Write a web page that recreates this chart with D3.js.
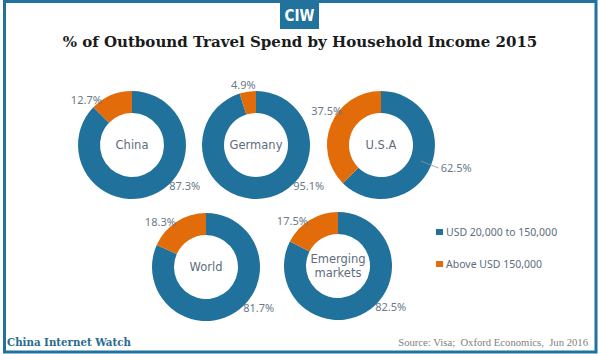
<!DOCTYPE html>
<html lang="en">
	<head>
		<meta charset="utf-8">
		<title>Outbound Travel Spend by Household Income</title>
		<script type="text/javascript" src="https://cdn.jsdelivr.net/npm/d3@7"></script>
		<style type="text/css">
			body { margin: 0; background: #fff; }

			.title {
				font-family: "DejaVu Serif", Georgia, serif;
				font-weight: bold;
				fill: #1b1b1b;
			}

			.centerLabel {
				font-family: "DejaVu Sans", sans-serif;
				font-size: 11.5px;
				fill: #5d6d7c;
			}

			.pctLabel {
				font-family: "Noto Sans", "DejaVu Sans", sans-serif;
				font-size: 11px;
				fill: #6a7988;
			}

			.legendText {
				font-family: "Noto Sans", "DejaVu Sans", sans-serif;
				font-size: 10.5px;
				fill: #5d6d7c;
			}
		</style>
	</head>
	<body>
		<script type="text/javascript">

			var w = 600;
			var h = 354;

			// data (% of spend)
			var regions = ["China", "Germany", "U.S.A", "World", "Emerging markets"];
			var midIncome = [87.3, 95.1, 62.5, 81.7, 82.5];
			var highIncome = [12.7, 4.9, 37.5, 18.3, 17.5];
			var seriesNames = ["USD 20,000 to 150,000", "Above USD 150,000"];
			var colors = ["#20719b", "#e36c0a"];

			// where each donut sits, and the direction its labels go (degrees from 12 o'clock)
			var layout = [
				{ cx: 132, cy: 145, orangeAt: 315, blueAt: 135 },
				{ cx: 256, cy: 145, orangeAt: null, blueAt: 135 },
				{ cx: 381, cy: 145, orangeAt: 300, blueAt: 112, leader: true },
				{ cx: 206, cy: 267, orangeAt: 315, blueAt: 135 },
				{ cx: 338, cy: 266, orangeAt: 315, blueAt: 135 }
			];

			var rIn = 32, rOut = 54;

			var svg = d3.select('body')
						.append('svg')
						.attr('width', w)
						.attr('height', h);

			// frame
			svg.append('rect')
				.attr('x', 4.5)
				.attr('y', 1.5)
				.attr('width', 591.5)
				.attr('height', 350.5)
				.attr('fill', 'none')
				.attr('stroke', '#21739d')
				.attr('stroke-width', 3);

			// CIW badge
			svg.append('rect')
				.attr('x', 280)
				.attr('y', 0)
				.attr('width', 39)
				.attr('height', 29)
				.attr('fill', '#21739d');

			svg.append('text')
				.attr('x', 299.5)
				.attr('y', 21)
				.attr('text-anchor', 'middle')
				.attr('fill', '#fff')
				.style('font-family', '"Liberation Sans Narrow", "DejaVu Sans Condensed", sans-serif')
				.style('font-weight', 'bold')
				.style('font-size', '15px')
				.text('CIW');

			// title, sized to fit its width in the original
			var title = svg.append('text')
				.attr('class', 'title')
				.attr('x', 300)
				.attr('y', 47)
				.attr('text-anchor', 'middle')
				.style('font-size', '15px')
				.text('% of Outbound Travel Spend by Household Income 2015');
			var tw = title.node().getComputedTextLength();
			title.style('font-size', (15 * 475 / tw) + 'px');

			var pie = d3.pie().sort(null).value(function(d) { return d; });
			var arc = d3.arc().innerRadius(rIn).outerRadius(rOut);

			var rad = Math.PI / 180;
			function polar(deg, r) {
				return [Math.sin(deg * rad) * r, -Math.cos(deg * rad) * r];
			}
			var fmt = function(v) { return d3.format('.1f')(v) + '%'; };

			regions.forEach(function(name, i) {
				var L = layout[i];
				var slices = pie([midIncome[i], highIncome[i]]);

				var g = svg.append('g')
					.attr('transform', 'translate(' + L.cx + ',' + L.cy + ')');

				g.selectAll('path')
					.data(slices)
					.enter()
					.append('path')
					.attr('d', arc)
					.attr('fill', function(d, j) { return colors[j]; });

				// name in the hole
				var words = name.split(' ');
				var t = g.append('text')
					.attr('class', 'centerLabel')
					.attr('text-anchor', 'middle');
				words.forEach(function(wd, k) {
					t.append('tspan')
						.attr('x', 0)
						.attr('y', (k - (words.length - 1) / 2) * 13.5 + 4)
						.text(wd);
				});

				// orange label, upper left
				var o = slices[1];
				var oDeg = L.orangeAt;
				if (oDeg === null) oDeg = (o.startAngle + o.endAngle) / 2 / rad;
				var po = polar(oDeg, rOut);
				g.append('text')
					.attr('class', 'pctLabel')
					.attr('text-anchor', 'end')
					.attr('x', po[0] + 8)
					.attr('y', po[1] - 3)
					.text(fmt(highIncome[i]));

				// blue label, lower right
				var pb;
				if (L.leader) {
					var a = polar(L.blueAt, (rIn + rOut) / 2);
					var b = polar(L.blueAt, rOut + 5);
					g.append('line')
						.attr('x1', a[0]).attr('y1', a[1])
						.attr('x2', b[0] + 3).attr('y2', b[1] + 1)
						.attr('stroke', '#8a97a3')
						.attr('stroke-width', 0.8);
					g.append('text')
						.attr('class', 'pctLabel')
						.attr('x', b[0] + 5)
						.attr('y', b[1] + 5)
						.text(fmt(midIncome[i]));
				} else {
					pb = polar(L.blueAt, rOut);
					g.append('text')
						.attr('class', 'pctLabel')
						.attr('x', pb[0] - 1)
						.attr('y', pb[1] + 7)
						.text(fmt(midIncome[i]));
				}
			});

			// legend
			var legend = svg.append('g')
				.selectAll('g')
				.data(seriesNames)
				.enter()
				.append('g')
				.attr('transform', function(d, i) { return 'translate(436,' + (229 + i * 32) + ')'; });

			legend.append('rect')
				.attr('width', 7)
				.attr('height', 6)
				.attr('fill', function(d, i) { return colors[i]; });

			legend.append('text')
				.attr('class', 'legendText')
				.attr('x', 10)
				.attr('y', 7)
				.text(function(d) { return d; });

			// footer
			var brand = svg.append('text')
				.attr('x', 7)
				.attr('y', 346)
				.attr('fill', '#2a6a90')
				.style('font-family', '"DejaVu Serif", Georgia, serif')
				.style('font-weight', 'bold')
				.style('font-size', '11px')
				.text('China Internet Watch');
			var bw = brand.node().getComputedTextLength();
			brand.style('font-size', (11 * 124 / bw) + 'px');

			var src = svg.append('text')
				.attr('x', 588)
				.attr('y', 346)
				.attr('text-anchor', 'end')
				.attr('fill', '#808080')
				.style('font-family', '"Liberation Serif", "Times New Roman", serif')
				.style('font-size', '10.5px')
				.style('white-space', 'pre')
				.text('Source: Visa;  Oxford Economics,  Jun 2016');
			var sw = src.node().getComputedTextLength();
			src.style('font-size', (10.5 * 190 / sw) + 'px');

		</script>
	</body>
</html>
